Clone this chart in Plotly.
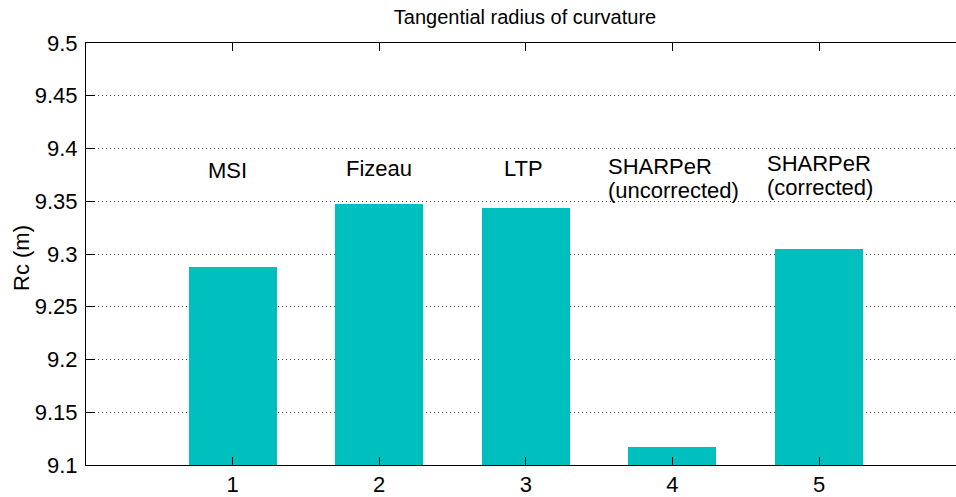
import plotly.graph_objects as go

# Measurement methods and their tangential radius of curvature (m)
positions = [1, 2, 3, 4, 5]
method_line1 = ["MSI", "Fizeau", "LTP", "SHARPeR", "SHARPeR"]
method_line2 = ["", "", "", "(uncorrected)", "(corrected)"]
rc_values = [9.288, 9.347, 9.344, 9.117, 9.305]
y_ticks = [9.1, 9.15, 9.2, 9.25, 9.3, 9.35, 9.4, 9.45, 9.5]
y_tick_text = ["9.1", "9.15", "9.2", "9.25", "9.3", "9.35", "9.4", "9.45", "9.5"]

# Placement of the method labels (left edge, first and second line heights)
label_left = [0.823, 1.766, 2.842, 3.553, 4.638]
label_y1 = [9.3788, 9.3806, 9.3806, 9.3834, 9.3858]
label_y2 = [None, None, None, 9.3605, 9.3629]

FONT = "Liberation Sans, Arial, Helvetica, sans-serif"
TEXT_SIZE = 22

fig = go.Figure()
fig.add_trace(go.Bar(
    x=positions,
    y=[v - 9.1 for v in rc_values],
    base=9.1,
    width=0.6,
    marker=dict(color="rgb(0,191,191)", line=dict(width=0)),
    showlegend=False,
    hoverinfo="skip",
))

annotations = []
for xl, t1, t2, y1, y2 in zip(label_left, method_line1, method_line2, label_y1, label_y2):
    annotations.append(dict(
        x=xl, y=y1, xref="x", yref="y", text=t1, showarrow=False,
        xanchor="left", yanchor="middle", borderpad=0,
        font=dict(family=FONT, size=TEXT_SIZE, color="black"),
    ))
    if t2:
        annotations.append(dict(
            x=xl, y=y2, xref="x", yref="y", text=t2, showarrow=False,
            xanchor="left", yanchor="middle", borderpad=0,
            font=dict(family=FONT, size=TEXT_SIZE, color="black"),
        ))

# y-axis title
annotations.append(dict(
    x=0, y=0.5, xref="paper", yref="paper", xshift=-65, yshift=-4,
    text="Rc (m)", textangle=-90, showarrow=False,
    xanchor="center", yanchor="middle",
    font=dict(family=FONT, size=TEXT_SIZE, color="black"),
))

fig.update_layout(
    width=956,
    height=497,
    margin=dict(l=86, r=0, t=43, b=26),
    paper_bgcolor="white",
    plot_bgcolor="white",
    title=dict(
        text="Tangential radius of curvature",
        x=525 / 956,
        xanchor="center",
        y=1 - 17 / 497,
        yanchor="middle",
        font=dict(family=FONT, size=20, color="black"),
    ),
    annotations=annotations,
    bargap=0,
)

fig.update_xaxes(
    range=[0, 5.934],
    tickvals=positions,
    ticktext=[str(p) for p in positions],
    ticks="inside",
    ticklen=8,
    tickcolor="black",
    showline=True,
    linecolor="black",
    linewidth=1,
    mirror="ticks",
    showgrid=False,
    zeroline=False,
    tickfont=dict(family=FONT, size=TEXT_SIZE, color="black"),
)

fig.update_yaxes(
    range=[9.1, 9.5],
    tickvals=y_ticks,
    ticktext=y_tick_text,
    ticks="inside",
    ticklen=9,
    tickcolor="black",
    showline=True,
    linecolor="black",
    linewidth=1,
    mirror=False,
    showgrid=True,
    gridcolor="rgb(70,70,70)",
    griddash="1px,3px",
    gridwidth=1,
    zeroline=False,
    ticklabelstandoff=3,
    tickfont=dict(family=FONT, size=TEXT_SIZE, color="black"),
)

fig.write_html("out.html")
